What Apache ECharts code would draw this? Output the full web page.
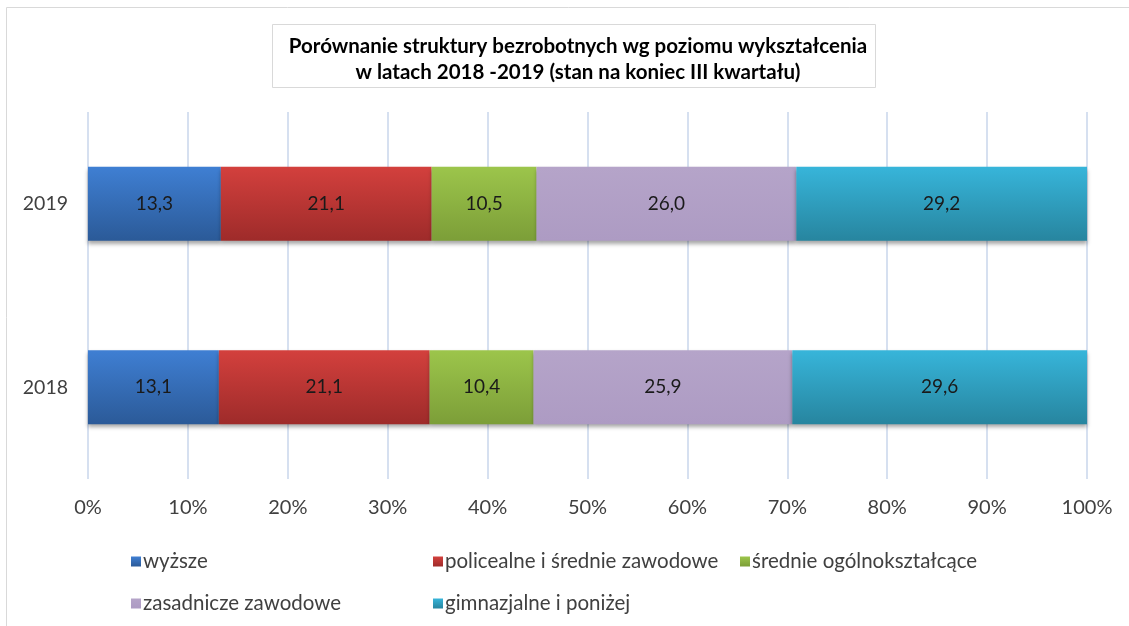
<!DOCTYPE html>
<html><head><meta charset="utf-8">
<script src="https://cdn.jsdelivr.net/npm/echarts@6/dist/echarts.min.js"></script>
<style>html,body{margin:0;padding:0;background:#fff}#c{width:1129px;height:626px}</style>
</head><body><div id="c"></div>
<script>
const categories = ['2018', '2019'];
const seriesNames = ['wyższe', 'policealne i średnie zawodowe', 'średnie ogólnokształcące', 'zasadnicze zawodowe', 'gimnazjalne i poniżej'];
const wyzsze = [13.1, 13.3];
const policealne = [21.1, 21.1];
const srednie = [10.4, 10.5];
const zasadnicze = [25.9, 26.0];
const gimnazjalne = [29.6, 29.2];
const xTicks = [0, 10, 20, 30, 40, 50, 60, 70, 80, 90, 100];

const values = [wyzsze, policealne, srednie, zasadnicze, gimnazjalne];
const grads = [['#3f7fd3', '#2b5a98'], ['#d3403d', '#9e2b2a'], ['#9cc54b', '#7c9e38'], ['#b5a4c9', '#ad9bc3'], ['#37b5da', '#27859f']];
const solid = ['#3a6fbf', '#c0393a', '#8db440', '#b1a0c6', '#30a0c2'];
const FONT = 'Lato, "Liberation Sans", sans-serif';

function grad(c) {
  return new echarts.graphic.LinearGradient(0, 0, 0, 1, [{offset: 0, color: c[0]}, {offset: 1, color: c[1]}]);
}

const series = seriesNames.map((n, i) => ({
  name: n, type: 'bar', stack: 'tot', xAxisIndex: 1, yAxisIndex: 1,
  barWidth: 74,
  data: values[i],
  itemStyle: {color: grad(grads[i]), shadowColor: 'rgba(0,0,0,0.35)', shadowBlur: 4, shadowOffsetY: 3},
  label: {show: true, position: 'inside', color: '#1a1a1a', fontSize: 19, fontFamily: FONT,
    formatter: p => p.value.toFixed(1).replace('.', ',')},
  emphasis: {disabled: true}
}));

const legendPos = [[126, 546], [428, 546], [735, 546], [126, 588], [428, 588]];
const legends = seriesNames.map((n, i) => ({
  data: [n], left: legendPos[i][0], top: legendPos[i][1],
  icon: 'rect', itemWidth: 10, itemHeight: 10, itemGap: 4,
  textStyle: {fontSize: 20.5, color: '#404040', fontFamily: FONT, padding: [0, 0, 0, -3]},
  selectedMode: false
}));

const chart = echarts.init(document.getElementById('c'));
chart.setOption({
  animation: false,
  color: solid,
  graphic: [
    {type: 'rect', shape: {x: 6.5, y: 7.5, width: 1200, height: 700}, style: {fill: 'none', stroke: '#d9d9d9', lineWidth: 1}, silent: true},
    {type: 'rect', shape: {x: 272.5, y: 24.5, width: 603, height: 63}, style: {fill: '#fff', stroke: '#d9d9d9', lineWidth: 1}, silent: true}
  ],
  title: {
    text: 'Porównanie struktury bezrobotnych wg poziomu wykształcenia\nw latach 2018 -2019 (stan na koniec III kwartału)',
    left: 573, top: 28, textAlign: 'center',
    textStyle: {fontSize: 20.5, fontWeight: 'bold', color: '#000', fontFamily: FONT, lineHeight: 26}
  },
  legend: legends,
  grid: [
    {left: 88, right: 42, top: 112, bottom: 147},
    {left: 88, right: 42, top: 112, bottom: 147}
  ],
  xAxis: [
    {type: 'value', gridIndex: 0, min: 0, max: 100, interval: 10,
      axisLine: {show: false}, axisTick: {show: false},
      splitLine: {show: true, lineStyle: {color: '#d6e0f0', width: 2}},
      axisLabel: {show: true, margin: 19, fontSize: 20, color: '#404040', fontFamily: FONT,
        formatter: v => xTicks.includes(v) ? v + '%' : ''}},
    {type: 'value', gridIndex: 1, min: 0, max: 100, interval: 10, show: false}
  ],
  yAxis: [
    {type: 'category', gridIndex: 0, data: categories, show: false},
    {type: 'category', gridIndex: 1, data: categories,
      axisLine: {show: false}, axisTick: {show: false}, splitLine: {show: false},
      axisLabel: {margin: 20, fontSize: 19.5, color: '#404040', fontFamily: FONT}}
  ],
  series: series
});
</script></body></html>
